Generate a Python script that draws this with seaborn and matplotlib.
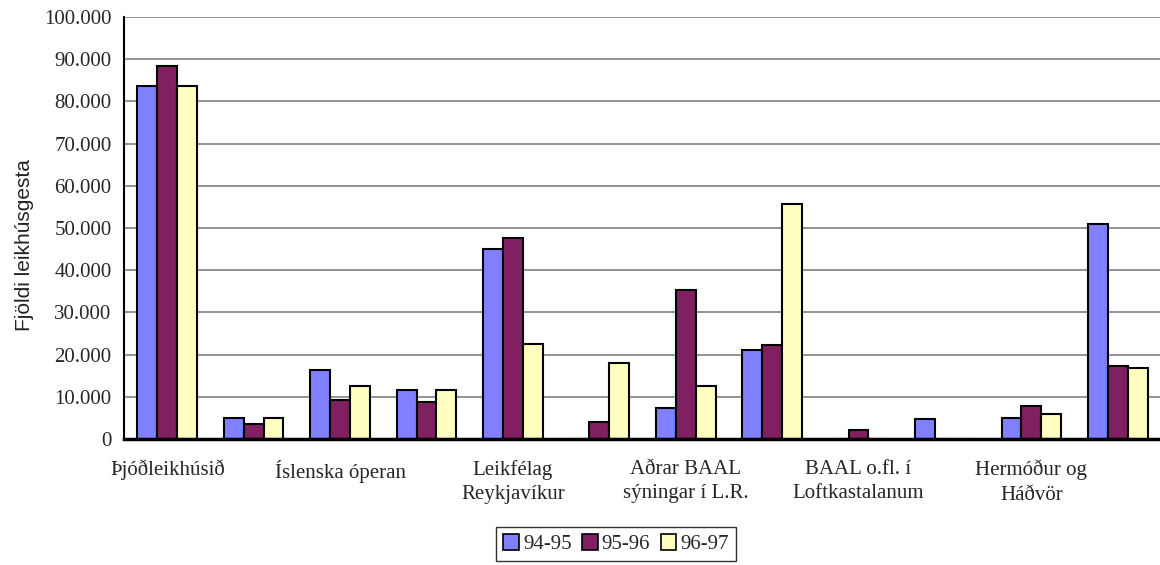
import pandas as pd
import matplotlib
matplotlib.use("Agg")
import matplotlib.pyplot as plt
import matplotlib.ticker as mticker
from matplotlib.patches import Patch
import seaborn as sns

# Data
categories = ["Þjóðleikhúsið", "flokkur 2", "Íslenska óperan", "flokkur 4",
              "Leikfélag\nReykjavíkur", "flokkur 6", "Aðrar BAAL\nsýningar í L.R.", "flokkur 8",
              "BAAL o.fl. í\nLoftkastalanum", "flokkur 10", "Hermóður og\nHáðvör", "flokkur 12"]
tick_labels = ["Þjóðleikhúsið", "", "Íslenska óperan", "",
               "Leikfélag\nReykjavíkur", "", "Aðrar BAAL\nsýningar í L.R.", "",
               "BAAL o.fl. í\nLoftkastalanum", "", "Hermóður og\nHáðvör", ""]
seasons = ["94-95", "95-96", "96-97"]
v_9495 = [83700, 5000, 16400, 11700, 45000, 0, 7400, 21000, 0, 4700, 5000, 50900]
v_9596 = [88500, 3600, 9200, 8800, 47600, 4000, 35400, 22200, 2200, 0, 7800, 17300]
v_9697 = [83700, 5000, 12600, 11700, 22600, 17900, 12600, 55800, 0, 0, 5900, 16800]
colors = ["#8080FF", "#802060", "#FFFFC0"]

rows = []
for s, vals in zip(seasons, [v_9495, v_9596, v_9697]):
    for c, v in zip(categories, vals):
        rows.append({"flokkur": c, "leikár": s, "gestir": v})
df = pd.DataFrame(rows)

sns.set_style("white")
plt.rcParams["font.family"] = ["Liberation Serif", "DejaVu Serif"]

fig = plt.figure(figsize=(11.6, 5.65), dpi=100)
# plot area: x 124..1161 px, y 17..439 px
ax = fig.add_axes([124 / 1160, 1 - 439 / 565, 1037 / 1160, (439 - 17) / 565])

sns.barplot(data=df, x="flokkur", y="gestir", hue="leikár", order=categories,
            hue_order=seasons, palette=colors, width=0.69, edgecolor="black",
            linewidth=1.5, saturation=1, legend=False, ax=ax, zorder=3)

ax.set_ylim(0, 100000)
ax.set_xlim(-0.5, len(categories) - 0.5)
ax.yaxis.set_major_locator(mticker.MultipleLocator(10000))
ax.yaxis.set_major_formatter(mticker.FuncFormatter(
    lambda v, p: f"{int(v):,}".replace(",", ".")))
ax.grid(axis="y", color="#808080", linewidth=1.2, zorder=0)
ax.set_axisbelow(True)

ax.set_xticks(range(len(categories)))
ax.set_xticklabels(tick_labels, fontsize=15, linespacing=1.4)
ax.set_xticks([i + 0.5 for i in range(-1, len(categories))], minor=True)
ax.tick_params(axis="x", which="major", length=0, pad=15)
ax.tick_params(axis="x", which="minor", length=8, width=1, color="black", direction="out")
ax.tick_params(axis="y", length=5, width=1, color="black", direction="out", labelsize=15, pad=4)

for side in ["top", "right"]:
    ax.spines[side].set_visible(False)
ax.spines["left"].set_color("black")
ax.spines["left"].set_linewidth(1.5)
ax.spines["bottom"].set_color("black")
ax.spines["bottom"].set_linewidth(2.5)
ax.spines["bottom"].set_zorder(4)

ax.set_xlabel("")
ax.set_ylabel("Fjöldi leikhúsgesta", fontsize=15, color="#222222",
              family=["Liberation Sans Narrow", "Liberation Sans", "DejaVu Sans"])
ax.yaxis.set_label_coords(-0.087, 0.46)

handles = [Patch(facecolor=c, edgecolor="black", linewidth=1.2) for c in colors]
fig.legend(handles, seasons, loc="upper center", bbox_to_anchor=(616 / 1160, 1 - 527 / 565),
           ncol=3, frameon=True, fancybox=False, edgecolor="black", fontsize=15,
           handlelength=0.75, handleheight=0.75, handletextpad=0.2, columnspacing=0.5,
           borderpad=0.35, borderaxespad=0)
fig.legends[0].get_frame().set_linewidth(1)

fig.savefig("out.png", dpi=100)
